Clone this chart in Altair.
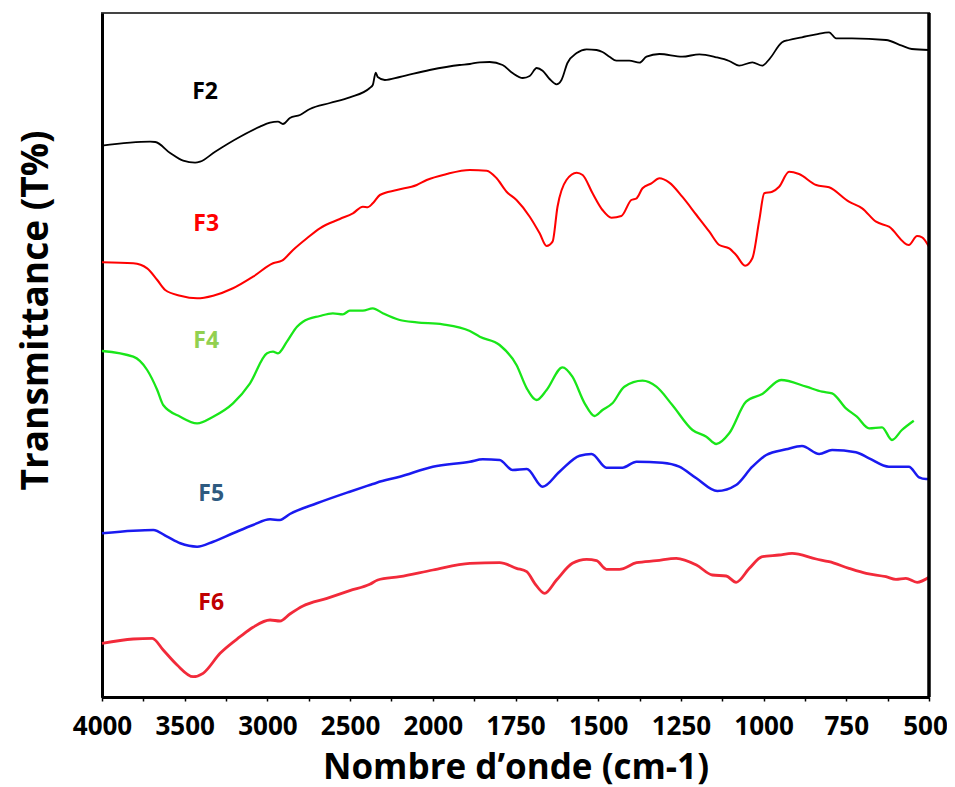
import altair as alt
import pandas as pd

# Wavenumber (cm-1) and relative transmittance (arbitrary units)
f2_wn = [4000, 3709, 3678, 3588, 3509, 3437, 3407, 3316, 3165, 3045, 2984, 2936, 2906, 2864, 2803, 2743,
         2622, 2502, 2381, 2363, 2345, 2333, 2290, 2200, 2019, 1919, 1888, 1858, 1828, 1789, 1759, 1728,
         1707, 1686, 1668, 1647, 1626, 1611, 1593, 1565, 1535, 1505, 1487, 1466, 1445, 1406, 1375, 1354,
         1315, 1246, 1194, 1143, 1104, 1074, 1034, 1004, 983, 944, 923, 884, 841, 802, 781, 733, 630,
         582, 552, 500]
f2_t = [551.3, 555.3, 555.0, 544.0, 536.3, 534.3, 535.3, 545.3, 560.3, 570.3, 574.3, 575.3, 573.0, 579.0,
        582.0, 588.0, 594.0, 599.7, 609.0, 612.0, 624.3, 620.0, 617.0, 620.0, 627.0, 632.0, 633.0, 634.7,
        635.0, 632.0, 624.0, 619.0, 621.0, 629.0, 626.3, 618.0, 612.7, 617.0, 634.0, 644.0, 647.7, 647.0,
        645.0, 640.3, 636.3, 636.3, 634.3, 640.3, 643.0, 640.3, 642.7, 639.7, 636.0, 631.3, 634.7, 631.3,
        637.7, 654.7, 657.0, 659.7, 662.7, 664.7, 658.7, 658.7, 657.0, 651.3, 648.0, 647.0]

f3_wn = [4000, 3811, 3727, 3666, 3618, 3527, 3425, 3328, 3208, 3087, 2966, 2912, 2845, 2761, 2683, 2562,
         2483, 2423, 2393, 2363, 2320, 2218, 2097, 2037, 1958, 1888, 1837, 1807, 1777, 1747, 1707, 1677,
         1656, 1638, 1623, 1596, 1565, 1547, 1517, 1487, 1460, 1430, 1400, 1384, 1366, 1339, 1315, 1285,
         1246, 1203, 1164, 1134, 1104, 1083, 1056, 1034, 1013, 998, 974, 953, 923, 893, 841, 802, 742,
         702, 660, 621, 561, 536, 521, 500]
f3_t = [434.7, 433.7, 428.7, 417.0, 407.0, 401.3, 398.7, 401.3, 408.7, 420.3, 433.7, 436.3, 447.0, 458.7,
        468.7, 478.0, 483.7, 490.3, 489.7, 493.7, 502.0, 507.0, 512.0, 517.0, 523.0, 527.0, 526.3, 518.7,
        505.3, 497.0, 480.3, 463.7, 451.0, 455.3, 490.3, 517.0, 524.3, 522.0, 503.7, 487.0, 479.3, 481.0,
        497.0, 498.7, 508.7, 513.7, 518.7, 514.3, 500.3, 482.0, 465.3, 452.0, 448.7, 442.0, 431.3, 438.7,
        477.0, 503.7, 505.3, 510.3, 525.3, 523.0, 512.0, 509.7, 495.3, 488.7, 475.3, 470.3, 452.0, 461.0,
        459.7, 450.3]

f4_wn = [4000, 3811, 3727, 3666, 3630, 3527, 3425, 3328, 3208, 3105, 3002, 2966, 2936, 2882, 2821, 2785,
         2683, 2604, 2544, 2502, 2423, 2363, 2302, 2200, 2097, 1970, 1888, 1858, 1798, 1747, 1716, 1686,
         1656, 1608, 1578, 1541, 1511, 1487, 1457, 1421, 1366, 1324, 1276, 1215, 1173, 1143, 1104, 1053,
         1004, 947, 871, 823, 793, 751, 718, 681, 642, 612, 582, 546]
f4_t = [346.0, 340.3, 327.0, 307.0, 292.0, 280.3, 273.7, 280.3, 293.7, 313.7, 343.7, 345.3, 343.7, 355.3,
        370.3, 375.3, 381.0, 383.7, 382.7, 386.3, 386.3, 388.7, 383.7, 377.0, 374.7, 372.7, 366.0, 360.3,
        352.0, 332.0, 308.7, 297.0, 307.0, 329.7, 320.3, 293.7, 281.0, 287.0, 293.7, 310.3, 316.3, 310.3,
        292.0, 267.0, 260.3, 253.0, 263.7, 295.3, 303.0, 317.0, 310.3, 305.3, 303.7, 288.7, 280.3, 268.7,
        269.7, 257.0, 267.0, 276.3]

f5_wn = [4000, 3811, 3690, 3606, 3527, 3425, 3328, 3208, 3087, 2984, 2924, 2864, 2701, 2502, 2381, 2339,
         2200, 2000, 1888, 1849, 1798, 1759, 1716, 1668, 1617, 1556, 1520, 1475, 1427, 1384, 1306, 1255,
         1203, 1140, 1083, 1034, 992, 932, 884, 832, 793, 721, 681, 621, 561, 530, 509, 500]
f5_t = [163.7, 166.3, 167.0, 160.3, 153.7, 150.3, 155.3, 163.7, 172.0, 177.7, 177.0, 183.0, 193.7, 205.3,
        212.0, 214.3, 220.3, 230.3, 235.3, 237.7, 237.0, 227.0, 228.0, 210.3, 225.3, 241.3, 243.0, 229.3,
        229.3, 235.3, 234.3, 230.3, 218.7, 206.0, 212.0, 230.3, 242.0, 247.7, 251.0, 243.0, 247.0, 244.7,
        238.7, 230.3, 230.3, 219.7, 218.0, 218.0]

f6_wn = [4000, 3811, 3696, 3630, 3546, 3449, 3389, 3286, 3165, 3087, 2984, 2924, 2864, 2785, 2640, 2502,
         2381, 2333, 2200, 2000, 1888, 1798, 1747, 1716, 1692, 1662, 1626, 1578, 1535, 1505, 1475, 1436,
         1384, 1324, 1264, 1203, 1155, 1113, 1083, 1043, 1004, 953, 914, 841, 802, 742, 690, 630, 600,
         570, 536, 500]
f6_t = [53.7, 58.0, 58.7, 47.0, 32.0, 20.3, 23.7, 43.7, 60.3, 69.7, 77.0, 76.0, 83.0, 91.0, 98.7, 106.3,
        112.7, 117.0, 120.3, 127.0, 133.7, 134.3, 128.7, 125.3, 113.7, 103.7, 117.0, 133.7, 137.7, 136.3,
        127.7, 127.7, 134.3, 136.3, 138.7, 132.0, 122.0, 121.0, 114.7, 128.7, 140.3, 142.0, 143.7, 138.0,
        135.3, 128.7, 123.7, 120.3, 117.7, 118.7, 114.7, 119.7]

series_names = ["F2", "F3", "F4", "F5", "F6"]
line_colors = ["#000000", "#FF0000", "#19E619", "#1A1AF0", "#F22A3A"]
line_widths = [1.8, 2.8, 2.4, 2.0, 1.8]
label_colors = ["#000000", "#FF0000", "#92D050", "#2E5A80", "#C00000"]
label_wn = [3377, 3370, 3370, 3340, 3340]
label_t = [605, 473, 356, 203, 94]

tick_vals = [i * 0.5 for i in range(21)]

rows = []
for name, wns, ts in zip(series_names, [f2_wn, f3_wn, f4_wn, f5_wn, f6_wn],
                         [f2_t, f3_t, f4_t, f5_t, f6_t]):
    for w, t in zip(wns, ts):
        rows.append({"series": name, "wn": w, "t": t})
df = pd.DataFrame(rows)
labels = pd.DataFrame({"series": series_names, "wn": label_wn, "t": label_t, "col": label_colors})

pos_expr = "datum.wn >= 2000 ? (4000 - datum.wn) / 500 : 4 + (2000 - datum.wn) / 250"
xscale = alt.Scale(domain=[0, 10], nice=False, zero=False)
yscale = alt.Scale(domain=[0, 684], nice=False, zero=False)
FONT = "Open Sans"

x_axis = alt.Axis(
    values=tick_vals,
    labelExpr="datum.value % 1 == 0 ? '' + (datum.value <= 4 ? 4000 - datum.value * 500 : 2000 - (datum.value - 4) * 250) : ''",
    grid=False, domainColor="black", domainWidth=3, tickColor="black", tickWidth=1.5, tickSize=4,
    labelFont=FONT, labelFontSize=26, labelFontWeight="bold", labelColor="black",
    labelBaseline="middle", labelPadding=25, labelFlush=False, labelOverlap=False,
    labelOffset={"condition": {"test": "datum.value == 10", "value": -4}, "value": 0},
    title="Nombre d’onde (cm-1)", titleFont=FONT, titleFontSize=35, titleFontWeight="bold",
    titleColor="black", titleBaseline="alphabetic", titleY=81,
)
y_axis = alt.Axis(
    labels=False, ticks=False, grid=False, domainColor="black", domainWidth=3,
    title="Transmittance (T%)", titleFont=FONT, titleFontSize=37, titleFontWeight="bold",
    titleColor="black", titleAngle=-90, titleBaseline="middle", titleAlign="center",
    titleX=-66, titleY=297,
)

lines = alt.Chart(df).transform_calculate(pos=pos_expr).mark_line(interpolate="monotone").encode(
    x=alt.X("pos:Q", scale=xscale, axis=x_axis),
    y=alt.Y("t:Q", scale=yscale, axis=y_axis),
    color=alt.Color("series:N", scale=alt.Scale(domain=series_names, range=line_colors), legend=None),
    size=alt.Size("series:N", scale=alt.Scale(domain=series_names, range=line_widths), legend=None),
    detail="series:N",
)

texts = alt.Chart(labels).transform_calculate(pos=pos_expr).mark_text(
    font=FONT, fontSize=23, fontWeight="bold", baseline="middle", align="center"
).encode(
    x=alt.X("pos:Q", scale=xscale),
    y=alt.Y("t:Q", scale=yscale),
    text="series:N",
    color=alt.Color("col:N", scale=None),
)

right_border = alt.Chart(pd.DataFrame({"pos": [10]})).mark_rule(color="black", strokeWidth=3.5).encode(
    x=alt.X("pos:Q", scale=xscale)
)

chart = alt.layer(lines, texts, right_border).properties(
    width=827, height=684,
    padding={"left": 94, "top": 5, "right": 18, "bottom": 93},
    autosize=alt.AutoSizeParams(type="none"),
).configure_view(stroke="#444444", strokeWidth=2)

chart.save("out.html", embed_options={"renderer": "svg", "actions": False})
